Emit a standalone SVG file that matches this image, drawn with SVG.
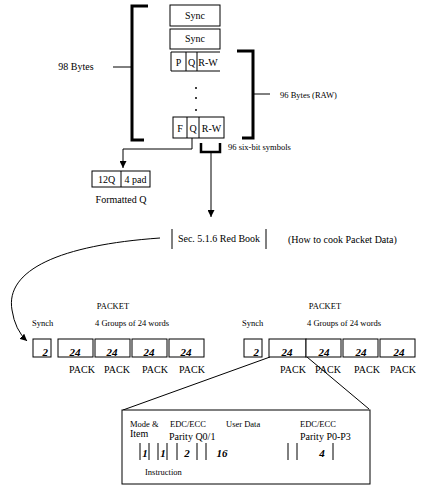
<svg xmlns="http://www.w3.org/2000/svg" width="422" height="498" viewBox="0 0 422 498">
<style>
text{font-family:"Liberation Serif","Times New Roman",serif;fill:#000;font-size:10px}
.s{font-size:8.5px}
.n{font-style:italic;font-weight:bold;font-size:11px}
.b{fill:#fff;stroke:#000;stroke-width:1}
.l{fill:none;stroke:#000;stroke-width:1}
.br{fill:none;stroke:#000;stroke-width:3}
.m{text-anchor:middle}
</style>
<defs>
<marker id="ah" viewBox="0 0 10 10" refX="10" refY="5" markerWidth="7" markerHeight="7" orient="auto" markerUnits="userSpaceOnUse">
<path d="M0,0 L10,5 L0,10 z" fill="#000"/>
</marker>
</defs>
<rect width="422" height="498" fill="#fff"/>

<g id="connectors">
<path class="l" d="M192,138 V149 H123 V168" marker-end="url(#ah)"/>
<path class="l" d="M211,152 V217" marker-end="url(#ah)"/>
<path class="l" d="M160,238 C60,245 5,270 12,310 Q15,330 27,341" marker-end="url(#ah)"/>
<path class="l" d="M270,357 L123,410"/>
<path class="l" d="M307,357 L369,409"/>
</g>

<g id="bracket98">
<path class="br" d="M148,6 H132 V140 H144"/>
<path class="l" d="M113,67 H132"/>
<text x="76" y="70" class="m">98 Bytes</text>
</g>

<g id="sync1"><rect class="b" x="170" y="5" width="50" height="21"/><text x="195" y="19" class="m">Sync</text></g>
<g id="sync2"><rect class="b" x="170" y="29" width="50" height="20"/><text x="195" y="42" class="m">Sync</text></g>
<g id="pqrw1">
<path class="l" d="M220,52 H171 V71 H220 M186,52 V71 M197,52 V71"/>
<text x="178.5" y="66" class="m">P</text><text x="191.5" y="66" class="m">Q</text><text x="208" y="66" class="m">R-W</text>
</g>
<g id="dots"><circle cx="196" cy="88" r="1" fill="#000"/><circle cx="196" cy="98" r="1" fill="#000"/><circle cx="196" cy="110" r="1" fill="#000"/></g>
<g id="pqrw2">
<rect class="b" x="173" y="117" width="51" height="21"/><path class="l" d="M187,117 V138 M199,117 V138"/>
<text x="180" y="132" class="m">F</text><text x="193" y="132" class="m">Q</text><text x="211.5" y="132" class="m">R-W</text>
</g>

<g id="bracket96">
<path class="br" d="M237,51 H253 V138 H242"/>
<path class="l" d="M253,94 H270"/>
<text x="280" y="98" class="s">96 Bytes (RAW)</text>
</g>
<g id="bracket6bit">
<path class="br" d="M201,143 V152 H220 V143" style="stroke-width:2.5"/>
<text x="228" y="150" class="s">96 six-bit symbols</text>
</g>

<g id="formattedQ">
<rect class="b" x="92" y="171" width="58" height="16"/><path class="l" d="M121,171 V187"/>
<text x="106.5" y="183" class="m">12Q</text><text x="135.5" y="183" class="m">4 pad</text>
<text x="121" y="203" class="m">Formatted Q</text>
</g>

<g id="redbook">
<path class="l" d="M172,229 V249 M266,229 V249"/>
<text x="219" y="242" class="m">Sec. 5.1.6 Red Book</text>
<text x="288" y="243">(How to cook Packet Data)</text>
</g>

<g id="packet1">
<text x="113" y="309" class="m s">PACKET</text>
<text x="32" y="326" class="s">Synch</text>
<text x="95" y="326" class="s">4 Groups of 24 words</text>
<rect class="b" x="33" y="339" width="18" height="18"/><text x="48" y="356" class="n" text-anchor="end">2</text>
<rect class="b" x="58" y="339" width="35" height="18"/><text x="75" y="356" class="n m">24</text>
<rect class="b" x="95" y="339" width="35" height="18"/><text x="112" y="356" class="n m">24</text>
<rect class="b" x="132" y="339" width="35" height="18"/><text x="149" y="356" class="n m">24</text>
<rect class="b" x="169" y="339" width="35" height="18"/><text x="186" y="356" class="n m">24</text>
<text x="82" y="373" class="m">PACK</text><text x="117" y="373" class="m">PACK</text><text x="155" y="373" class="m">PACK</text><text x="192" y="373" class="m">PACK</text>
</g>

<g id="packet2">
<text x="325" y="309" class="m s">PACKET</text>
<text x="242" y="326" class="s">Synch</text>
<text x="307" y="326" class="s">4 Groups of 24 words</text>
<rect class="b" x="244" y="339" width="18" height="18"/><text x="259" y="356" class="n" text-anchor="end">2</text>
<rect class="b" x="269" y="339" width="37" height="18"/><text x="287" y="356" class="n m">24</text>
<rect class="b" x="306" y="339" width="35" height="18"/><text x="324" y="356" class="n m">24</text>
<rect class="b" x="343" y="339" width="35" height="18"/><text x="361" y="356" class="n m">24</text>
<rect class="b" x="380" y="339" width="35" height="18"/><text x="399" y="356" class="n m">24</text>
<text x="293" y="373" class="m">PACK</text><text x="328" y="373" class="m">PACK</text><text x="367" y="373" class="m">PACK</text><text x="403" y="373" class="m">PACK</text>
</g>

<g id="detail">
<rect class="b" x="122" y="410" width="248" height="74"/>
<text x="130" y="427" class="s">Mode &amp;</text>
<text x="130" y="437">Item</text>
<text x="170" y="427" class="s">EDC/ECC</text>
<text x="169" y="440">Parity Q0/1</text>
<text x="226" y="427" class="s">User Data</text>
<text x="300" y="427" class="s">EDC/ECC</text>
<text x="300" y="440">Parity P0-P3</text>
<path class="l" d="M140,443 V460 M149,443 V460 M158,443 V460 M167,443 V460 M177,443 V460 M197,443 V460 M206,443 V460 M288,443 V460 M297,443 V460 M333,443 V460"/>
<text x="145" y="457" class="n m">1</text>
<text x="163" y="457" class="n m">1</text>
<text x="187" y="457" class="n m">2</text>
<text x="222" y="457" class="n m">16</text>
<text x="322" y="457" class="n m">4</text>
<text x="145" y="475" class="s">Instruction</text>
</g>
</svg>
